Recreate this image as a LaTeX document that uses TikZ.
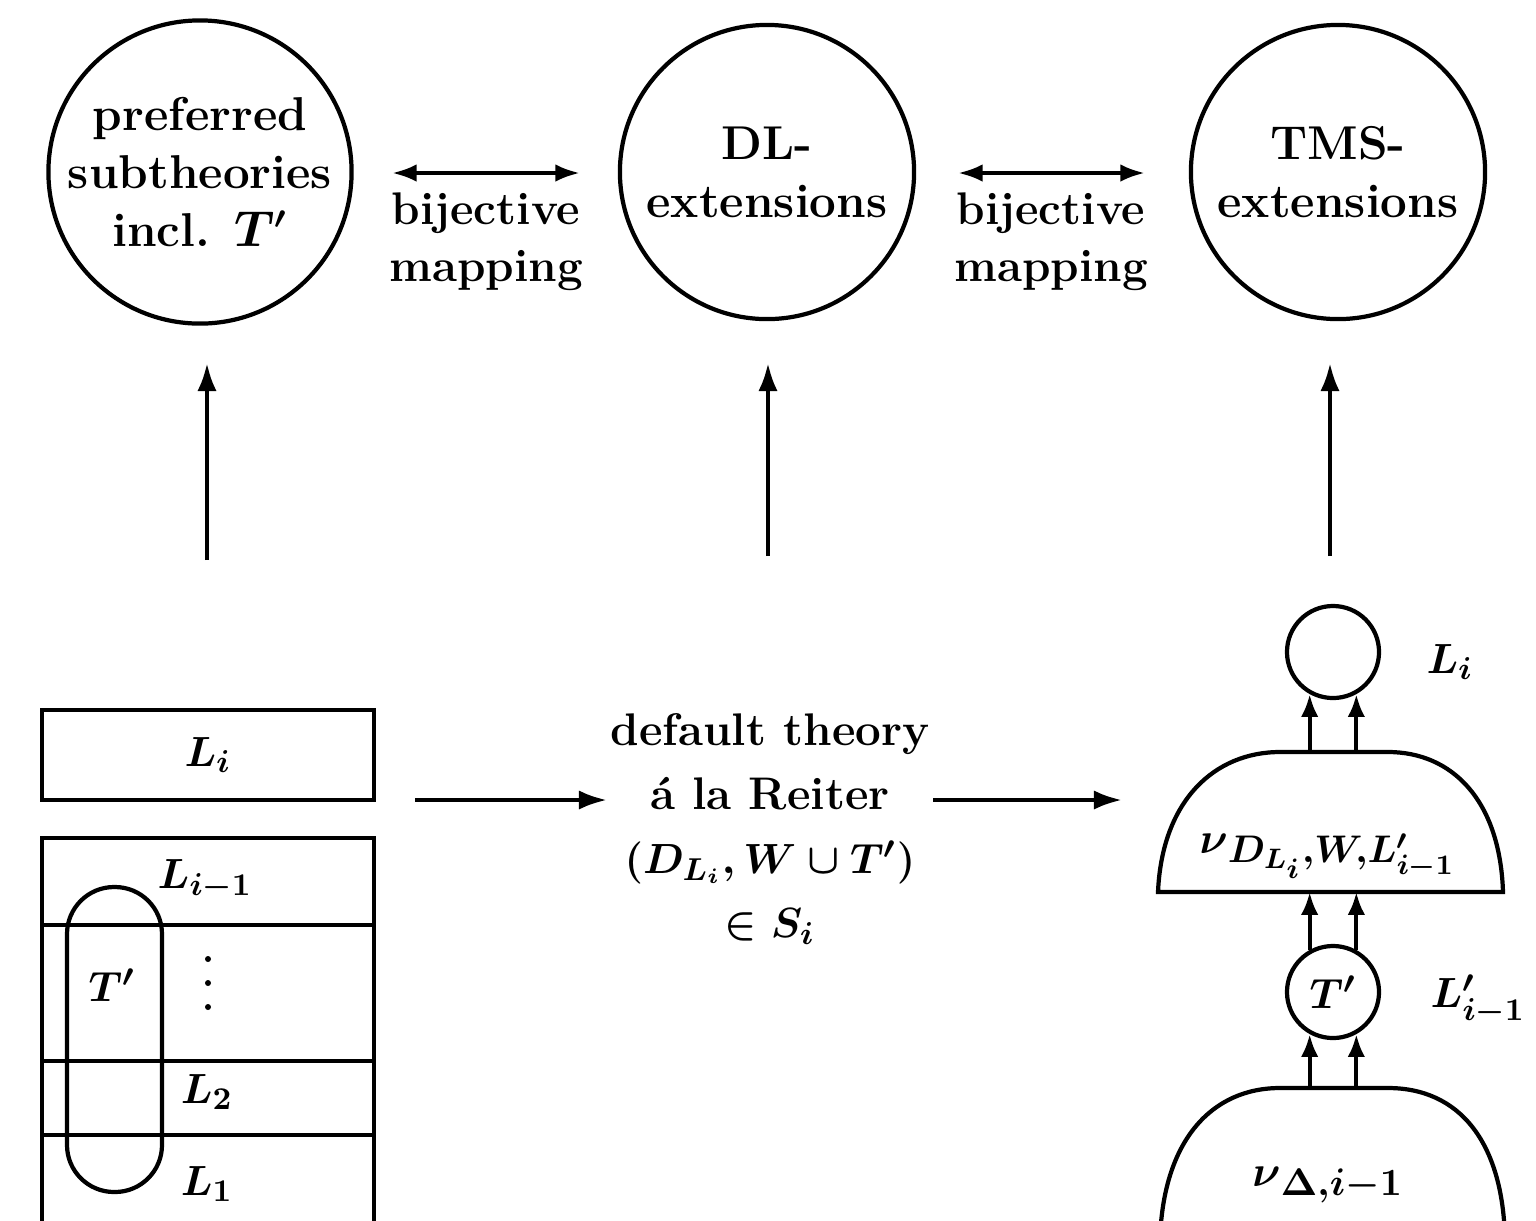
\documentclass[tikz,border=0pt]{standalone}
\usetikzlibrary{arrows.meta}
\newcommand\smallnu{\mbox{\scalebox{0.72}{$\nu$}}}
\begin{document}
\begin{tikzpicture}[x=0.01cm,y=-0.01cm,line width=1.2pt,
  lbl/.style={font=\fontsize{13}{15.5}\selectfont\bfseries\boldmath,align=center,inner sep=0pt},
  bigcirc/.style={draw,circle,minimum size=2.94cm,inner sep=0pt,lbl,font=\fontsize{13.5}{16.5}\selectfont\bfseries\boldmath},
  smallcirc/.style={draw,circle,minimum size=0.92cm,inner sep=0pt,lbl},
  tip/.style={-{Latex[length=8pt,width=5.5pt]}},
  bitip/.style={{Latex[length=7pt,width=5pt]}-{Latex[length=7pt,width=5pt]}},
  smalltip/.style={-{Latex[length=6.5pt,width=5pt]}}]
\clip (0,0) rectangle (1536,1220);

% top row: the three sets of extensions
\node[bigcirc] (pst) at (200,172) {preferred\\subtheories\\incl. $T'$};
\node[bigcirc] (dl)  at (767,172) {DL-\\extensions};
\node[bigcirc] (tms) at (1338,172) {TMS-\\extensions};

\coordinate (b1l) at (392,173); \coordinate (b1r) at (580,173);
\coordinate (b2l) at (958,173); \coordinate (b2r) at (1145,173);
\draw[bitip] (b1l) -- (b1r);
\draw[bitip] (b2l) -- (b2r);
\node[lbl,font=\fontsize{13}{16.2}\selectfont\bfseries] (bij1) at (486,242) {bijective\\mapping};
\node[lbl,font=\fontsize{13}{16.2}\selectfont\bfseries] (bij2) at (1051,242) {bijective\\mapping};

% vertical arrows up to the top row
\coordinate (v1) at (207,560); \coordinate (v1t) at (207,363);
\coordinate (v2) at (768,556); \coordinate (v2t) at (768,363);
\coordinate (v3) at (1330,556); \coordinate (v3t) at (1330,363);
\draw[tip] (v1) -- (v1t);
\draw[tip] (v2) -- (v2t);
\draw[tip] (v3) -- (v3t);

% left: layered theory
\node[draw,lbl,minimum width=3.32cm,minimum height=0.9cm] (boxLi) at (208,755) {$L_i$};
\draw (42,1240) -- (42,838) -- (374,838) -- (374,1240);
\draw (42,925) -- (374,925);
\draw (42,1061) -- (374,1061);
\draw (42,1135) -- (374,1135);
\draw[rounded corners=0.47cm] (67,887) rectangle (162,1192);
\node[lbl] (lim1) at (205,880) {$L_{i-1}$};
\node[lbl] (tp) at (112,985) {$T'$};
% vertical ellipsis
\fill (208,959) circle[radius=3];
\fill (208,983) circle[radius=3];
\fill (208,1007) circle[radius=3];
\node[lbl] (l2) at (207,1092) {$L_2$};
\node[lbl] (l1) at (207,1184) {$L_1$};

% middle: default theory
\node[lbl,font=\fontsize{13}{18.2}\selectfont\bfseries\boldmath] (dt) at (770,829)
  {default theory\\\'a la Reiter\\$(D_{L_i},W\cup T')$\\$\in S_i$};
\coordinate (h1l) at (415,800); \coordinate (h1r) at (607,800);
\coordinate (h2l) at (933,800); \coordinate (h2r) at (1122,800);
\draw[tip] (h1l) -- (h1r);
\draw[tip] (h2l) -- (h2r);

% right: TMS network
\node[smallcirc] (Li) at (1333,652) {};
\node[lbl] (LiLab) at (1450,662) {$L_i$};
\draw (1158,892) .. controls (1162,800) and (1215,752) .. (1280,752) -- (1388,752)
  .. controls (1452,752) and (1500,800) .. (1503,892) -- cycle;
\coordinate (d1top) at (1333,752);
\coordinate (d1bot) at (1333,892);
\node[lbl,font=\fontsize{16}{18}\selectfont\bfseries\boldmath] (nu1) at (1328,856) {$\smallnu_{D_{L_i},W,L'_{i-1}}$};
\node[smallcirc] (Tc) at (1333,992) {$T'$};
\node[lbl] (LpLab) at (1478,1000) {$L'_{i-1}$};
\draw (1160,1240) .. controls (1163,1140) and (1212,1088) .. (1280,1088) -- (1388,1088)
  .. controls (1458,1088) and (1503,1140) .. (1505,1240);
\coordinate (d2top) at (1333,1088);
\node[lbl,font=\fontsize{16}{18}\selectfont\bfseries\boldmath] (nu2) at (1328,1185) {$\smallnu_{\Delta,i-1}$};

\draw[smalltip] (Li.-119 |- d1top) -- (Li.-119);
\draw[smalltip] (Li.-61 |- d1top) -- (Li.-61);
\draw[smalltip] (Tc.119) -- (Tc.119 |- d1bot);
\draw[smalltip] (Tc.61) -- (Tc.61 |- d1bot);
\draw[smalltip] (Tc.-119 |- d2top) -- (Tc.-119);
\draw[smalltip] (Tc.-61 |- d2top) -- (Tc.-61);
\end{tikzpicture}
\end{document}
